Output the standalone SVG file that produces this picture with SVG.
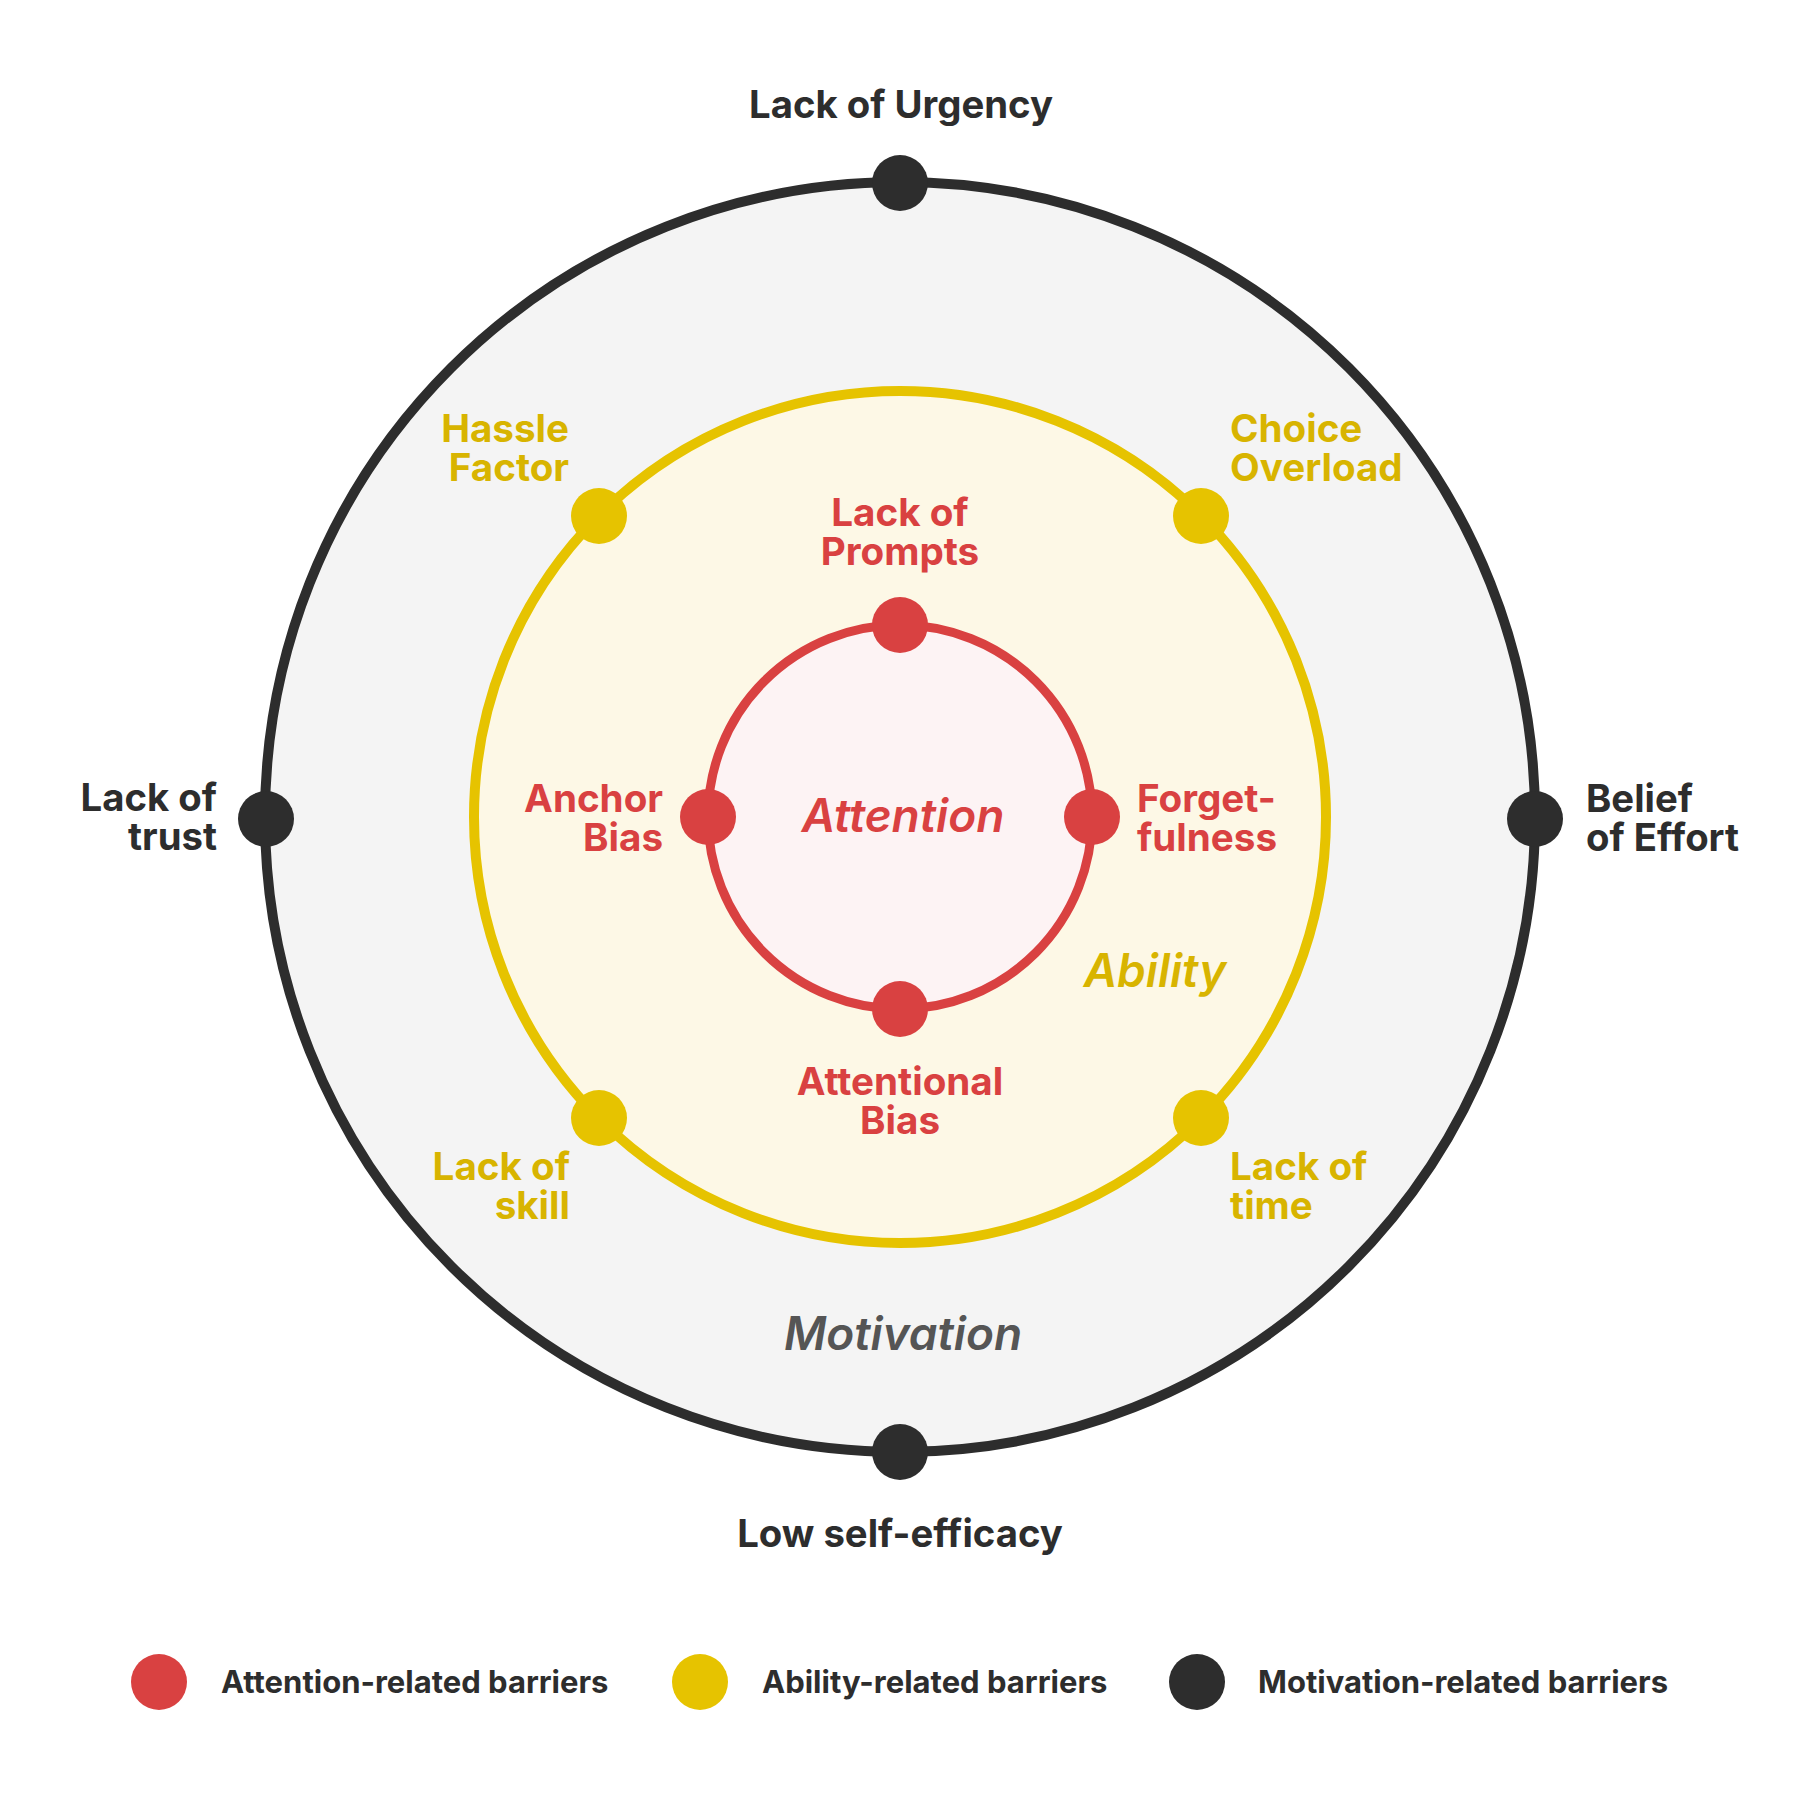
<svg xmlns="http://www.w3.org/2000/svg" width="1800" height="1800" viewBox="0 0 1800 1800">
<style>
text{font-family:Inter,"Noto Sans","Liberation Sans",sans-serif;font-weight:700}
.dk{fill:#2d2d2d}
.yl{fill:#d8b400}
.rd{fill:#d94141}
.o{font-size:38.3px}
.l{font-size:38.6px}
.lg{font-size:31px}
.it{font-style:italic;font-weight:600;font-size:46px}
.dotd{fill:#2d2d2d}
.doty{fill:#e6c300}
.dotr{fill:#d94141}
</style>
<rect width="1800" height="1800" fill="#ffffff"/>
<g id="rings">
<circle id="motivation-ring" cx="900" cy="817" r="635" fill="#f4f4f4" stroke="#2d2d2d" stroke-width="10"/>
<circle id="ability-ring" cx="900" cy="817" r="426" fill="#fdf8e6" stroke="#e6c300" stroke-width="10"/>
<circle id="attention-ring" cx="900" cy="817" r="192" fill="#fdf3f4" stroke="#d94141" stroke-width="9"/>
</g>
<g id="connectors"></g>
<text class="it" x="903" y="832" text-anchor="middle" fill="#d94141">Attention</text>
<text class="it" x="1155" y="987" text-anchor="middle" fill="#d8b400">Ability</text>
<text class="it" x="903" y="1350" text-anchor="middle" fill="#555555">Motivation</text>
<g id="lack-of-urgency"><circle class="dotd" cx="900" cy="183" r="28"/><text class="o dk" x="901" y="118" text-anchor="middle">Lack of Urgency</text></g>
<g id="low-self-efficacy"><circle class="dotd" cx="900" cy="1452" r="28"/><text class="o dk" x="900" y="1547" text-anchor="middle">Low self-efficacy</text></g>
<g id="lack-of-trust"><circle class="dotd" cx="266" cy="819" r="28"/><text class="o dk" text-anchor="end"><tspan x="217" y="811">Lack of</tspan><tspan x="217" y="850">trust</tspan></text></g>
<g id="belief-of-effort"><circle class="dotd" cx="1535" cy="819" r="28"/><text class="o dk"><tspan x="1586" y="812">Belief</tspan><tspan x="1586" y="851">of Effort</tspan></text></g>
<g id="hassle-factor"><circle class="doty" cx="599" cy="516" r="28"/><text class="l yl" text-anchor="end"><tspan x="569" y="442">Hassle</tspan><tspan x="569" y="481">Factor</tspan></text></g>
<g id="choice-overload"><circle class="doty" cx="1201" cy="516" r="28"/><text class="l yl"><tspan x="1230" y="442">Choice</tspan><tspan x="1230" y="481">Overload</tspan></text></g>
<g id="lack-of-skill"><circle class="doty" cx="599" cy="1118" r="28"/><text class="l yl" text-anchor="end"><tspan x="570" y="1180">Lack of</tspan><tspan x="570" y="1219">skill</tspan></text></g>
<g id="lack-of-time"><circle class="doty" cx="1201" cy="1118" r="28"/><text class="l yl"><tspan x="1230" y="1180">Lack of</tspan><tspan x="1230" y="1219">time</tspan></text></g>
<g id="lack-of-prompts"><circle class="dotr" cx="900" cy="625" r="28"/><text class="l rd" text-anchor="middle"><tspan x="900" y="526">Lack of</tspan><tspan x="900" y="565">Prompts</tspan></text></g>
<g id="attentional-bias"><circle class="dotr" cx="900" cy="1009" r="28"/><text class="l rd" text-anchor="middle"><tspan x="900" y="1095">Attentional</tspan><tspan x="900" y="1134">Bias</tspan></text></g>
<g id="anchor-bias"><circle class="dotr" cx="708" cy="817" r="28"/><text class="l rd" text-anchor="end"><tspan x="663" y="812">Anchor</tspan><tspan x="663" y="851">Bias</tspan></text></g>
<g id="forgetfulness"><circle class="dotr" cx="1092" cy="817" r="28"/><text class="l rd"><tspan x="1137" y="812">Forget-</tspan><tspan x="1137" y="851">fulness</tspan></text></g>
<g id="legend">
<circle class="dotr" cx="159" cy="1682" r="28"/><text class="lg dk" x="221" y="1693">Attention-related barriers</text>
<circle class="doty" cx="700" cy="1682" r="28"/><text class="lg dk" x="762" y="1693">Ability-related barriers</text>
<circle class="dotd" cx="1197" cy="1682" r="28"/><text class="lg dk" x="1258" y="1693">Motivation-related barriers</text>
</g>
</svg>
